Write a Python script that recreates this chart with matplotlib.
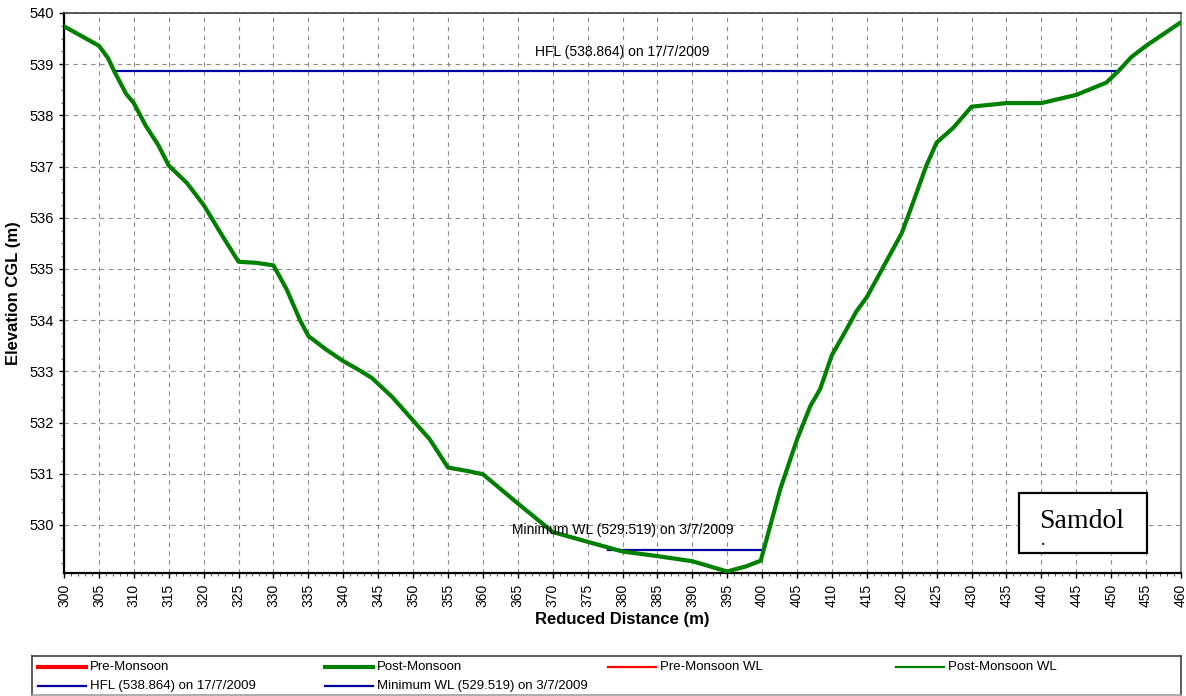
import matplotlib
matplotlib.use("Agg")
import matplotlib.pyplot as plt
from matplotlib.lines import Line2D
from matplotlib.patches import Rectangle
from matplotlib.ticker import MultipleLocator

plt.rcParams['font.family'] = ['Liberation Sans', 'DejaVu Sans']

# Post-monsoon cross section (reduced distance m, elevation m)
post_dist = [300, 305, 306.3, 307.2, 308.9, 310, 311.7, 313.5, 315, 317.6,
             320, 322.8, 325, 327.5, 330, 331.9, 333.8, 335, 337.6, 340,
             342.2, 344.1, 347, 350, 352.4, 355, 357.5, 360, 365, 370,
             375, 380, 385, 390, 395, 397.7, 399.8, 400.4, 402.6, 405,
             406.9, 408.3, 410, 411.6, 413.5, 415, 417.4, 420, 421.6, 423.5,
             425, 427.4, 430, 435, 440, 445, 449.3, 451, 452.9, 455, 460]
post_elev = [539.74, 539.36, 539.12, 538.86, 538.42, 538.24, 537.80, 537.42, 537.02, 536.68,
             536.25, 535.62, 535.14, 535.12, 535.07, 534.60, 534.00, 533.69, 533.42, 533.20,
             533.03, 532.87, 532.50, 532.04, 531.67, 531.12, 531.06, 530.99, 530.42, 529.86,
             529.67, 529.48, 529.39, 529.29, 529.09, 529.19, 529.30, 529.60, 530.70, 531.67,
             532.32, 532.65, 533.32, 533.70, 534.17, 534.45, 535.05, 535.70, 536.29, 537.01,
             537.47, 537.76, 538.17, 538.24, 538.24, 538.40, 538.64, 538.86, 539.14, 539.36, 539.82]

# Pre-monsoon survey has no points in this section
pre_dist = []
pre_elev = []

hfl_level = 538.864
hfl_span = [307.2, 451.0]
min_wl_level = 529.519
min_wl_span = [377.9, 400.1]

hfl_label = "HFL (538.864) on 17/7/2009"
min_wl_label = "Minimum WL (529.519) on 3/7/2009"

legend_labels = ["Pre-Monsoon", "Post-Monsoon", "Pre-Monsoon WL", "Post-Monsoon WL",
                 hfl_label, min_wl_label]
legend_colors = ["#ff0000", "#008000", "#ff0000", "#008000", "#0000a0", "#0000a0"]
legend_widths = [3.0, 3.0, 1.6, 1.6, 1.6, 1.6]

fig = plt.figure(figsize=(11.86, 6.96), dpi=100)
ax = fig.add_axes([64 / 1186, 1 - 573 / 696, 1117 / 1186, 560 / 696])

ax.plot(pre_dist, pre_elev, color="#ff0000", lw=3)
ax.plot(post_dist, post_elev, color="#008000", lw=3, zorder=4, solid_capstyle='round')
ax.plot(hfl_span, [hfl_level, hfl_level], color="#0000a0", lw=1.6, zorder=3)
ax.plot(min_wl_span, [min_wl_level, min_wl_level], color="#0000a0", lw=1.6, zorder=3)

ax.text(380, hfl_level + 0.38, hfl_label, ha='center', va='center', fontsize=10)
ax.text(380, min_wl_level + 0.38, min_wl_label, ha='center', va='center', fontsize=10,
        zorder=5)

ax.set_xlim(300, 460)
ax.set_ylim(529.06, 540)
ax.xaxis.set_major_locator(MultipleLocator(5))
ax.xaxis.set_minor_locator(MultipleLocator(1))
ax.yaxis.set_major_locator(MultipleLocator(1))
ax.yaxis.set_minor_locator(MultipleLocator(0.25))
ax.tick_params(axis='x', which='major', labelrotation=90, labelsize=10, length=3.5, width=1, pad=4)
ax.tick_params(axis='y', which='major', labelsize=10.5, length=3.5, width=1, pad=3.5)
ax.tick_params(which='minor', length=2, width=0.8, color='#606060')

ax.grid(True, which='major', color='#8c8c8c', lw=0.8, linestyle=(0, (4, 4)))
ax.set_axisbelow(True)

for side in ['left', 'bottom']:
    ax.spines[side].set_linewidth(1.6)
    ax.spines[side].set_color('black')
ax.spines['top'].set_color('#404040')
ax.spines['top'].set_linewidth(1.2)
ax.spines['right'].set_color('#8a8a8a')
ax.spines['right'].set_linewidth(1.5)

ax.set_xlabel("Reduced Distance (m)", fontsize=12, fontweight='bold', labelpad=4)
ax.set_ylabel("Elevation CGL (m)", fontsize=12, fontweight='bold', labelpad=6)

# Site name box
ax.add_patch(Rectangle((0.855, 0.036), 0.115, 0.107, transform=ax.transAxes,
                       facecolor='white', edgecolor='black', lw=1.6, zorder=6))
ax.text(0.873, 0.080, "Samdol", transform=ax.transAxes, fontsize=20,
        family='Liberation Serif', va='baseline', ha='left', zorder=7)
ax.text(0.875, 0.050, ".", transform=ax.transAxes, fontsize=13,
        family='Liberation Serif', va='baseline', ha='left', zorder=7)

# Legend panel along the bottom
lax = fig.add_axes([32 / 1186, 1 / 696, 1149 / 1186, 39 / 696])
lax.set_xlim(0, 1149)
lax.set_ylim(0, 39)
lax.set_xticks([])
lax.set_yticks([])
for side in lax.spines:
    lax.spines[side].set_color('#404040')
    lax.spines[side].set_linewidth(1.2)
lax.spines['bottom'].set_color('#a0a0a0')

col_x = [6, 293, 576, 864]
row_y = [28, 9]
for i, (lab, col, lw) in enumerate(zip(legend_labels, legend_colors, legend_widths)):
    cx = col_x[i % 4]
    ry = row_y[i // 4]
    lax.add_line(Line2D([cx, cx + 48], [ry, ry], color=col, lw=lw))
    lax.text(cx + 52, ry, lab, fontsize=9.5, va='center', ha='left')

fig.savefig("out.png", dpi=100)
